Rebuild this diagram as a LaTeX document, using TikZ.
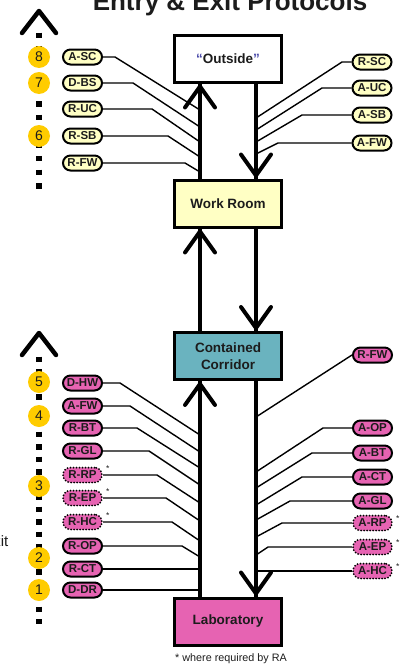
\documentclass[tikz,border=0pt]{standalone}
\usepackage{fontspec}
\setmainfont{Liberation Sans}
\usetikzlibrary{calc}
\definecolor{yel}{HTML}{FFFFC4}
\definecolor{pnk}{HTML}{E663B2}
\definecolor{teal2}{HTML}{6AB3BF}
\definecolor{gold}{HTML}{FFCC00}
\definecolor{qblue}{HTML}{4848A8}
\definecolor{txt}{HTML}{1C1C1C}
\begin{document}
\begin{tikzpicture}[x=1pt,y=-1pt,
  box/.style={draw=black,line width=3pt,minimum width=107pt,minimum height=47pt,inner sep=0pt,
    font=\fontsize{13.5}{17}\selectfont\bfseries,text=txt,align=center},
  pill/.style={draw=black,line width=2pt,rounded corners=7.5pt,minimum width=39pt,minimum height=15pt,
    inner sep=0pt,font=\fontsize{11.5}{12}\selectfont\bfseries,text=txt},
  ypill/.style={pill,fill=yel},
  ppill/.style={pill,fill=pnk},
  dpill/.style={ppill,dash pattern=on 0pt off 3pt,line cap=round},
  num/.style={circle,fill=gold,minimum size=22pt,inner sep=0pt,font=\fontsize{14}{15}\selectfont,text=txt},
  conn/.style={line width=1.4pt},
  flow/.style={line width=4pt},
  chev/.style={line width=4pt,line cap=round,line join=round},
  star/.style={font=\fontsize{8.5}{9}\selectfont,inner sep=0pt,text=txt},
  dots/.style={line width=5.5pt}
]
\useasboundingbox (0,0) rectangle (405,664);

% title (cut at top)
\node[anchor=base,font=\fontsize{26}{28}\selectfont\bfseries,text=txt,inner sep=0pt] (title) at (230,10) {Entry \& Exit Protocols};
\node[anchor=base east,font=\fontsize{15}{17}\selectfont,text=txt,inner sep=0pt] (exit) at (8.5,546) {Exit};

% boxes
\node[box,fill=white] (out) at (228,58.5) {\textcolor{qblue}{“}Outside\textcolor{qblue}{”}};
\node[box,fill=yel] (work) at (228,203.5) {Work Room};
\node[box,fill=teal2] (corr) at (228,356) {Contained\\Corridor};
\node[box,fill=pnk] (lab) at (228,621.5) {Laboratory};

\coordinate (L) at (200,0);
\coordinate (R) at (256,0);

% left sequence lines
\draw[dots,dash pattern=on 5.5pt off 8.2pt] (39,32.5) -- (39,190);
\draw[dots,dash pattern=on 5.5pt off 7pt] (39,356.5) -- (39,624);
\draw[chev,line width=4.5pt] (22,33) -- (39,11) -- (56,33);
\draw[chev,line width=4.5pt] (22,355) -- (39,333) -- (56,355);

\node[num] (n8) at (39,57) {8};
\node[num] (n7) at (39,83) {7};
\node[num] (n6) at (39,136) {6};
\node[num] (n5) at (39,382) {5};
\node[num] (n4) at (39,416) {4};
\node[num] (n3) at (39,486) {3};
\node[num] (n2) at (39,558) {2};
\node[num] (n1) at (39,590) {1};

% top left pills
\node[ypill] (tasc) at (82.5,57) {A-SC};
\node[ypill] (tdbs) at (82.5,83) {D-BS};
\node[ypill] (truc) at (82.5,109) {R-UC};
\node[ypill] (trsb) at (82.5,136) {R-SB};
\node[ypill] (trfw) at (82.5,163) {R-FW};
\draw[conn] (tasc.east) -- (115,57) -- (200,110);
\draw[conn] (tdbs.east) -- (133,83) -- (200,127);
\draw[conn] (truc.east) -- (152,109) -- (200,142);
\draw[conn] (trsb.east) -- (168,136) -- (200,157);
\draw[conn] (trfw.east) -- (185,163) -- (200,172);

% top right pills
\node[ypill] (rrsc) at (372,62) {R-SC};
\node[ypill] (rauc) at (372,88) {A-UC};
\node[ypill] (rasb) at (372,115) {A-SB};
\node[ypill] (rafw) at (372,143) {A-FW};
\draw[conn] (rrsc.west) -- (342,62) -- (256,118);
\draw[conn] (rauc.west) -- (322,88) -- (256,130);
\draw[conn] (rasb.west) -- (302,115) -- (256,142);
\draw[conn] (rafw.west) -- (278,143) -- (256,154);

% bottom left pills
\node[ppill] (bdhw) at (82.5,383) {D-HW};
\node[ppill] (bafw) at (82.5,406) {A-FW};
\node[ppill] (brbt) at (82.5,428) {R-BT};
\node[ppill] (brgl) at (82.5,451) {R-GL};
\node[dpill] (brrp) at (82.5,475) {R-RP};
\node[dpill] (brep) at (82.5,498) {R-EP};
\node[dpill] (brhc) at (82.5,522) {R-HC};
\node[ppill] (brop) at (82.5,546) {R-OP};
\node[ppill] (brct) at (82.5,569) {R-CT};
\node[ppill] (bddr) at (82.5,590) {D-DR};
\node[star,anchor=west] (s1) at (106,469) {*};
\node[star,anchor=west] (s2) at (106,492) {*};
\node[star,anchor=west] (s3) at (106,516) {*};
\draw[conn] (bdhw.east) -- (120,383) -- (200,435);
\draw[conn] (bafw.east) -- (130,406) -- (200,452);
\draw[conn] (brbt.east) -- (137,428) -- (200,468);
\draw[conn] (brgl.east) -- (149,451) -- (200,485);
\draw[conn] (brrp.east) -- (157,475) -- (200,503);
\draw[conn] (brep.east) -- (166,498) -- (200,521);
\draw[conn] (brhc.east) -- (172,522) -- (200,541);
\draw[conn] (brop.east) -- (182,546) -- (200,557);
\draw[conn] (brct.east) -- (200,569);
\draw[conn] (bddr.east) -- (200,590);

% bottom right pills
\node[ppill] (crfw) at (372.5,355) {R-FW};
\node[ppill] (caop) at (372.5,428) {A-OP};
\node[ppill] (cabt) at (372.5,453) {A-BT};
\node[ppill] (cact) at (372.5,477) {A-CT};
\node[ppill] (cagl) at (372.5,501) {A-GL};
\node[dpill] (carp) at (372.5,523) {A-RP};
\node[dpill] (caep) at (372.5,547) {A-EP};
\node[dpill] (cahc) at (372.5,571) {A-HC};
\node[star,anchor=west] (s4) at (396,519) {*};
\node[star,anchor=west] (s5) at (396,543) {*};
\node[star,anchor=west] (s6) at (396,567) {*};
\draw[conn] (crfw.west) -- (256,417);
\draw[conn] (caop.west) -- (323,428) -- (256,472);
\draw[conn] (cabt.west) -- (312,453) -- (256,488);
\draw[conn] (cact.west) -- (302,477) -- (256,505);
\draw[conn] (cagl.west) -- (290,501) -- (256,520);
\draw[conn] (carp.west) -- (282,523) -- (256,537);
\draw[conn] (caep.west) -- (268,547) -- (256,555);
\draw[conn] (cahc.west) -- (256,571);

% flow arrows
\draw[flow] (work.north -| L) -- (out.south -| L);
\draw[chev] (out.south -| L) ++(-15,24) -- ++(15,-21) -- ++(15,21);
\draw[flow] (out.south -| R) -- (work.north -| R);
\draw[chev] (work.north -| R) ++(-15,-24) -- ++(15,21) -- ++(15,-21);

\draw[flow] (corr.north -| L) -- (work.south -| L);
\draw[chev] (work.south -| L) ++(-15,24) -- ++(15,-21) -- ++(15,21);
\draw[flow] (work.south -| R) -- (corr.north -| R);
\draw[chev] (corr.north -| R) ++(-15,-24) -- ++(15,21) -- ++(15,-21);

\draw[flow] (lab.north -| L) -- (corr.south -| L);
\draw[chev] (corr.south -| L) ++(-15,24) -- ++(15,-21) -- ++(15,21);
\draw[flow] (corr.south -| R) -- (lab.north -| R);
\draw[chev] (lab.north -| R) ++(-15,-24) -- ++(15,21) -- ++(15,-21);

\node[anchor=base,font=\fontsize{10.8}{12}\selectfont,text=txt,inner sep=0pt] (note) at (231,661) {* where required by RA};
\end{tikzpicture}
\end{document}
